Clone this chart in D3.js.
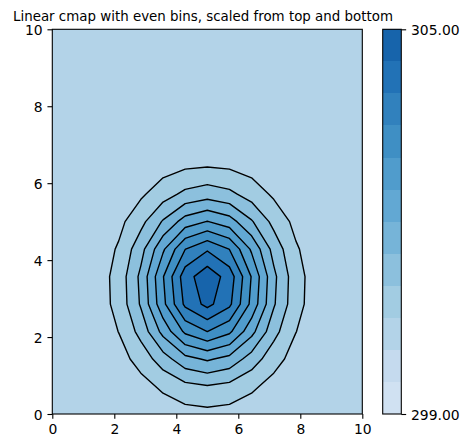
<!DOCTYPE html>
<html>
<head>
<meta charset="utf-8">
<script src="https://cdn.jsdelivr.net/npm/d3@7"></script>
<style>
  body { margin: 0; background: #fff; }
  text { font-family: "DejaVu Sans", sans-serif; }
</style>
</head>
<body>
<svg id="chart" width="468" height="448"></svg>
<script>
"use strict";

//data
const title = "Linear cmap with even bins, scaled from top and bottom";
const xTicks = [0, 2, 4, 6, 8, 10];
const yTicks = [0, 2, 4, 6, 8, 10];
const levels = [299, 299.5, 300, 300.5, 301, 301.5, 302, 302.5, 303, 303.5, 304, 304.5, 305];
const cbarTicks = [299, 305];
const gridSize = [15, 15]; // nodes in x and y, evenly over 0..10
// values on the grid, row 0 is y = 0, row 14 is y = 10
const temperature = [
  [300.00, 300.00, 300.02, 300.05, 300.12, 300.22, 300.31, 300.35, 300.31, 300.22, 300.12, 300.05, 300.02, 300.00, 300.00],
  [300.00, 300.01, 300.05, 300.14, 300.32, 300.59, 300.85, 300.96, 300.85, 300.59, 300.32, 300.14, 300.05, 300.01, 300.00],
  [300.01, 300.03, 300.10, 300.30, 300.69, 301.27, 301.84, 302.07, 301.84, 301.27, 300.69, 300.30, 300.10, 300.03, 300.01],
  [300.01, 300.04, 300.17, 300.51, 301.17, 302.16, 303.10, 303.50, 303.10, 302.16, 301.17, 300.51, 300.17, 300.04, 300.01],
  [300.01, 300.06, 300.22, 300.67, 301.56, 302.86, 304.11, 304.65, 304.11, 302.86, 301.56, 300.67, 300.22, 300.06, 300.01],
  [300.01, 300.06, 300.23, 300.69, 301.62, 302.97, 304.28, 304.83, 304.28, 302.97, 301.62, 300.69, 300.23, 300.06, 300.01],
  [300.01, 300.05, 300.19, 300.56, 301.32, 302.42, 303.49, 303.94, 303.49, 302.42, 301.32, 300.56, 300.19, 300.05, 300.01],
  [300.01, 300.03, 300.12, 300.36, 300.85, 301.55, 302.23, 302.52, 302.23, 301.55, 300.85, 300.36, 300.12, 300.03, 300.01],
  [300.00, 300.02, 300.06, 300.18, 300.42, 300.78, 301.12, 301.27, 301.12, 300.78, 300.42, 300.18, 300.06, 300.02, 300.00],
  [300.00, 300.01, 300.02, 300.07, 300.17, 300.31, 300.44, 300.49, 300.44, 300.31, 300.17, 300.07, 300.02, 300.01, 300.00],
  [300.00, 300.00, 300.01, 300.02, 300.05, 300.09, 300.14, 300.15, 300.14, 300.09, 300.05, 300.02, 300.01, 300.00, 300.00],
  [300.00, 300.00, 300.00, 300.01, 300.01, 300.02, 300.03, 300.04, 300.03, 300.02, 300.01, 300.01, 300.00, 300.00, 300.00],
  [300.00, 300.00, 300.00, 300.00, 300.00, 300.00, 300.01, 300.01, 300.01, 300.00, 300.00, 300.00, 300.00, 300.00, 300.00],
  [300.00, 300.00, 300.00, 300.00, 300.00, 300.00, 300.00, 300.00, 300.00, 300.00, 300.00, 300.00, 300.00, 300.00, 300.00],
  [300.00, 300.00, 300.00, 300.00, 300.00, 300.00, 300.00, 300.00, 300.00, 300.00, 300.00, 300.00, 300.00, 300.00, 300.00]
];

//layout
const plot = { left: 52.3, right: 362.3, top: 29.3, bottom: 414 };
const cbar = { left: 382.7, right: 401.3 };
const fontSize = 13.9;
const titleSize = 13.4;
const tickLen = 4.86;
const tickPad = 4.86;

// Blues, cut to its middle part
const blues = d3.piecewise(d3.interpolateRgb, [
  "#f7fbff", "#deebf7", "#c6dbef", "#9ecae1", "#6baed6",
  "#4292c6", "#2171b5", "#08519c", "#08306b"
]);
const nBins = levels.length - 1;
const binColor = (k) => blues(0.2 + 0.6 * k / (nBins - 1));

const svg = d3.select("#chart");

const x = d3.scaleLinear().domain([0, 10]).range([plot.left, plot.right]);
const y = d3.scaleLinear().domain([0, 10]).range([plot.bottom, plot.top]);

svg.append("clipPath").attr("id", "plotClip")
  .append("rect")
    .attr("x", plot.left).attr("y", plot.top)
    .attr("width", plot.right - plot.left).attr("height", plot.bottom - plot.top);

// contour bands and lines
const values = temperature.flat();
const step = 10 / (gridSize[0] - 1);
const toPlot = d3.geoTransform({
  point: function(px, py) {
    this.stream.point(x((px - 0.5) * step), y((py - 0.5) * step));
  }
});
const path = d3.geoPath(toPlot);
const bands = d3.contours().size(gridSize).thresholds(levels.slice(0, -1))(values);
const vMin = d3.min(values);

const g = svg.append("g").attr("clip-path", "url(#plotClip)");
g.selectAll(".band")
  .data(bands)
  .enter().append("path")
    .attr("class", "band")
    .attr("d", path)
    .attr("fill", (d, i) => binColor(i))
    .attr("stroke", "none");

g.selectAll(".line")
  .data(bands.filter((d) => d.value > vMin && d.coordinates.length))
  .enter().append("path")
    .attr("class", "line")
    .attr("d", path)
    .attr("fill", "none")
    .attr("stroke", "#000")
    .attr("stroke-width", 1.4)
    .attr("stroke-linejoin", "round");

// axes
const xAxis = svg.append("g")
  .attr("transform", `translate(0,${plot.bottom})`)
  .call(d3.axisBottom(x).tickValues(xTicks).tickFormat(d3.format("d"))
    .tickSize(tickLen).tickPadding(tickPad).tickSizeOuter(0));
const yAxis = svg.append("g")
  .attr("transform", `translate(${plot.left},0)`)
  .call(d3.axisLeft(y).tickValues(yTicks).tickFormat(d3.format("d"))
    .tickSize(tickLen).tickPadding(tickPad).tickSizeOuter(0));

[xAxis, yAxis].forEach((a) => {
  a.select(".domain").remove();
  a.selectAll("line").attr("stroke", "#000").attr("stroke-width", 1.1);
  a.selectAll("text").attr("fill", "#000")
    .style("font-size", fontSize + "px").style("font-family", "DejaVu Sans");
});
xAxis.selectAll("text").attr("y", 20).attr("dy", 0);
yAxis.selectAll("text").attr("dy", "0.36em");

svg.append("rect")
  .attr("x", plot.left).attr("y", plot.top)
  .attr("width", plot.right - plot.left).attr("height", plot.bottom - plot.top)
  .attr("fill", "none").attr("stroke", "#000").attr("stroke-width", 1.1);

// colorbar
const cy = d3.scaleLinear()
  .domain([levels[0], levels[levels.length - 1]])
  .range([plot.bottom, plot.top]);

svg.append("g").selectAll("rect")
  .data(d3.range(nBins))
  .enter().append("rect")
    .attr("x", cbar.left)
    .attr("width", cbar.right - cbar.left)
    .attr("y", (k) => cy(levels[k + 1]))
    .attr("height", (k) => cy(levels[k]) - cy(levels[k + 1]))
    .attr("fill", (k) => binColor(k))
    .attr("shape-rendering", "crispEdges");

const cAxis = svg.append("g")
  .attr("transform", `translate(${cbar.right},0)`)
  .call(d3.axisRight(cy).tickValues(cbarTicks).tickFormat(d3.format(".2f"))
    .tickSize(tickLen).tickPadding(tickPad).tickSizeOuter(0));
cAxis.select(".domain").remove();
cAxis.selectAll("line").attr("stroke", "#000").attr("stroke-width", 1.1);
cAxis.selectAll("text").attr("fill", "#000").attr("dy", "0.36em")
  .style("font-size", fontSize + "px").style("font-family", "DejaVu Sans");

svg.append("rect")
  .attr("x", cbar.left).attr("y", plot.top)
  .attr("width", cbar.right - cbar.left).attr("height", plot.bottom - plot.top)
  .attr("fill", "none").attr("stroke", "#000").attr("stroke-width", 1.1);

// title
svg.append("text")
  .attr("x", 203)
  .attr("y", 20.5)
  .attr("text-anchor", "middle")
  .style("font-size", titleSize + "px")
  .text(title);
</script>
</body>
</html>
